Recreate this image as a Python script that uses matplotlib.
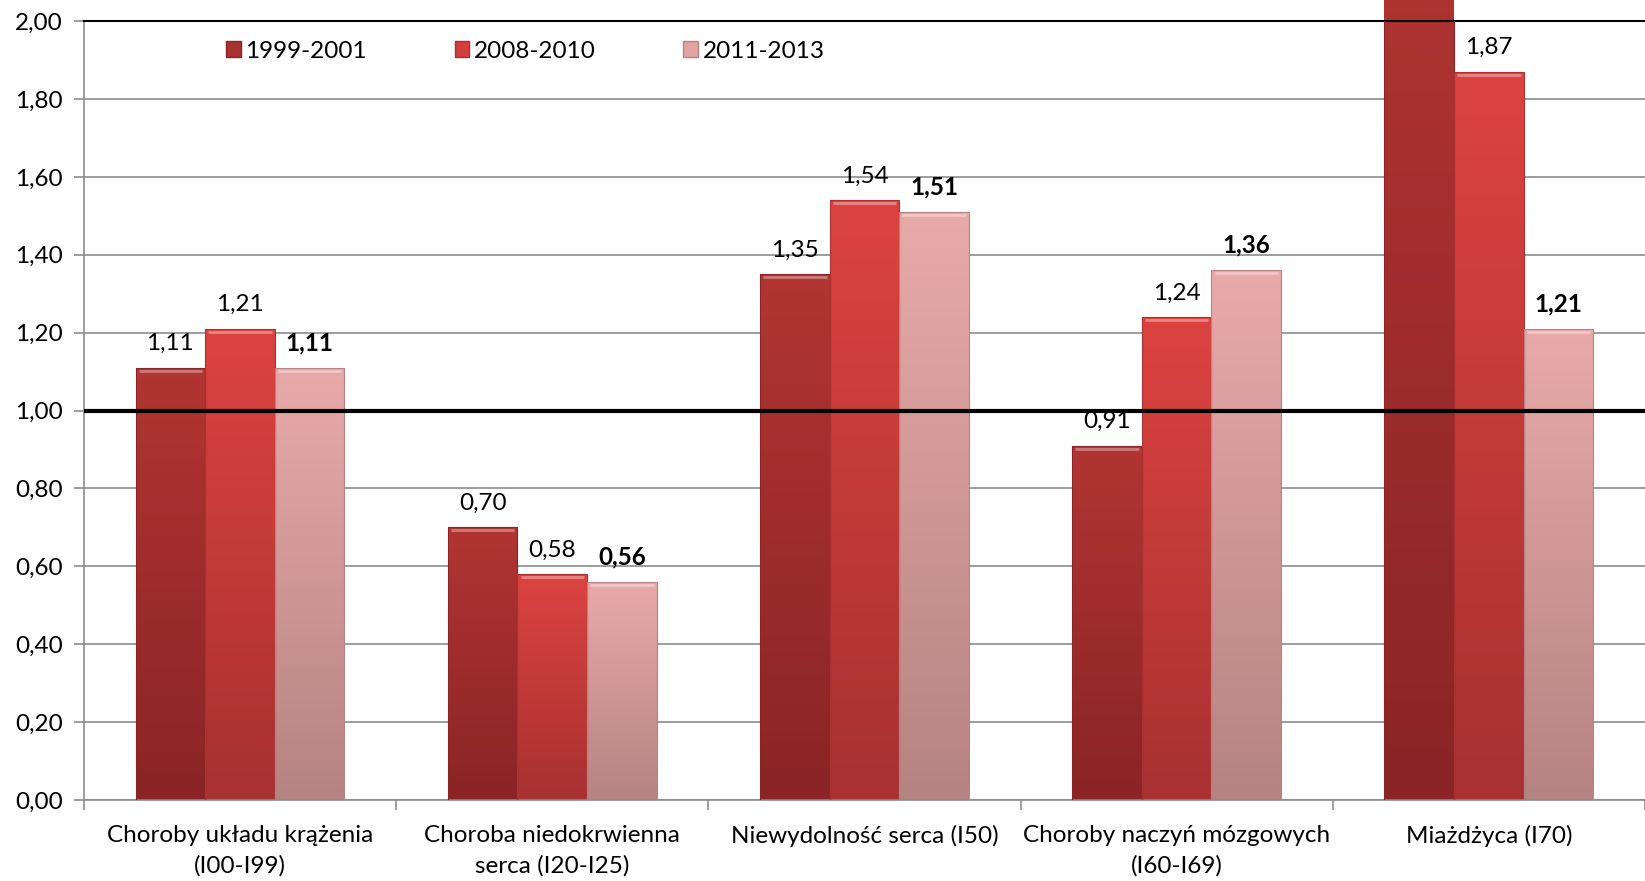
import numpy as np
import matplotlib
matplotlib.use("Agg")
import matplotlib.pyplot as plt
from matplotlib.colors import LinearSegmentedColormap
from matplotlib.patches import Patch

plt.rcParams["font.family"] = ["Lato", "DejaVu Sans"]

categories = ["Choroby układu krążenia\n(I00-I99)",
              "Choroba niedokrwienna\nserca (I20-I25)",
              "Niewydolność serca (I50)",
              "Choroby naczyń mózgowych\n(I60-I69)",
              "Miażdżyca (I70)"]
series = ["1999-2001", "2008-2010", "2011-2013"]
v_1999 = [1.11, 0.70, 1.35, 0.91, 2.30]
v_2008 = [1.21, 0.58, 1.54, 1.24, 1.87]
v_2011 = [1.11, 0.56, 1.51, 1.36, 1.21]
values = [v_1999, v_2008, v_2011]

# top colour, bottom colour for each series
grad = [("#b13532", "#8a2426"),
        ("#dc4340", "#a83131"),
        ("#e8aaa9", "#b68383")]
solid = ["#a83230", "#d43f3d", "#e2a3a2"]

FS = 17.5

fig = plt.figure(figsize=(16.45, 8.81), dpi=100)
ax = fig.add_axes([0.051, 0.092, 0.949, 0.884])

ymax = 2.0
x = np.arange(len(categories))
w = 0.223
for i, vals in enumerate(values):
    cmap = LinearSegmentedColormap.from_list("g%d" % i, [grad[i][1], grad[i][0]])
    for j, v in enumerate(vals):
        x0 = x[j] + (i - 1) * w - w / 2
        bars = ax.bar(x0, v, width=w, align="edge", color="none",
                      edgecolor=grad[i][1], linewidth=0.8, zorder=3)
        g = np.linspace(0, 1, 100).reshape(-1, 1)
        im = ax.imshow(g, cmap=cmap, aspect="auto", origin="lower",
                       extent=(x0, x0 + w, 0, v), zorder=2.5)
        im.set_clip_path(bars.patches[0])
        if v >= ymax:
            continue  # bar runs off the top, label not shown
        # bevel highlight on top
        ax.plot([x0 + 0.01, x0 + w - 0.01], [v - 0.008, v - 0.008],
                color="white", alpha=0.35, lw=2, zorder=4,
                solid_capstyle="butt")
        lbl = ("%.2f" % v).replace(".", ",")
        ax.text(x0 + w / 2, v + 0.035, lbl, ha="center", va="bottom",
                fontsize=FS, fontweight="bold" if i == 2 else "normal",
                zorder=5)

ax.set_xlim(-0.5, len(categories) - 0.5)
ax.set_ylim(0, ymax)
yt = np.arange(0, 2.01, 0.2)
ax.set_yticks(yt)
ax.set_yticklabels([("%.2f" % t).replace(".", ",") for t in yt], fontsize=FS)
ax.grid(axis="y", color="#8c8c8c", lw=1.2, zorder=0)
ax.axhline(1.0, color="black", lw=3, zorder=6)

ax.set_xticks(x)
ax.set_xticklabels(categories, fontsize=FS, linespacing=1.5)
ax.set_xticks(np.arange(-0.5, len(categories) + 0.5, 1), minor=True)
ax.tick_params(axis="x", which="major", length=0, pad=18)
ax.tick_params(axis="x", which="minor", length=7, color="#8c8c8c", width=1.2)
ax.tick_params(axis="y", length=7, color="#8c8c8c", width=1.2, pad=8)

for s in ["left", "bottom"]:
    ax.spines[s].set_color("#8c8c8c")
    ax.spines[s].set_linewidth(1.2)
ax.spines["right"].set_visible(False)
ax.spines["top"].set_color("black")
ax.spines["top"].set_linewidth(1.5)

handles = [Patch(facecolor=solid[i], edgecolor=grad[i][1]) for i in range(3)]
ax.legend(handles, series, loc="upper left", bbox_to_anchor=(0.077, 1.003),
          ncol=3, frameon=False, fontsize=FS, handlelength=0.6,
          handleheight=0.6, handletextpad=0.2, columnspacing=3.6)

fig.savefig("out.png", dpi=100)
